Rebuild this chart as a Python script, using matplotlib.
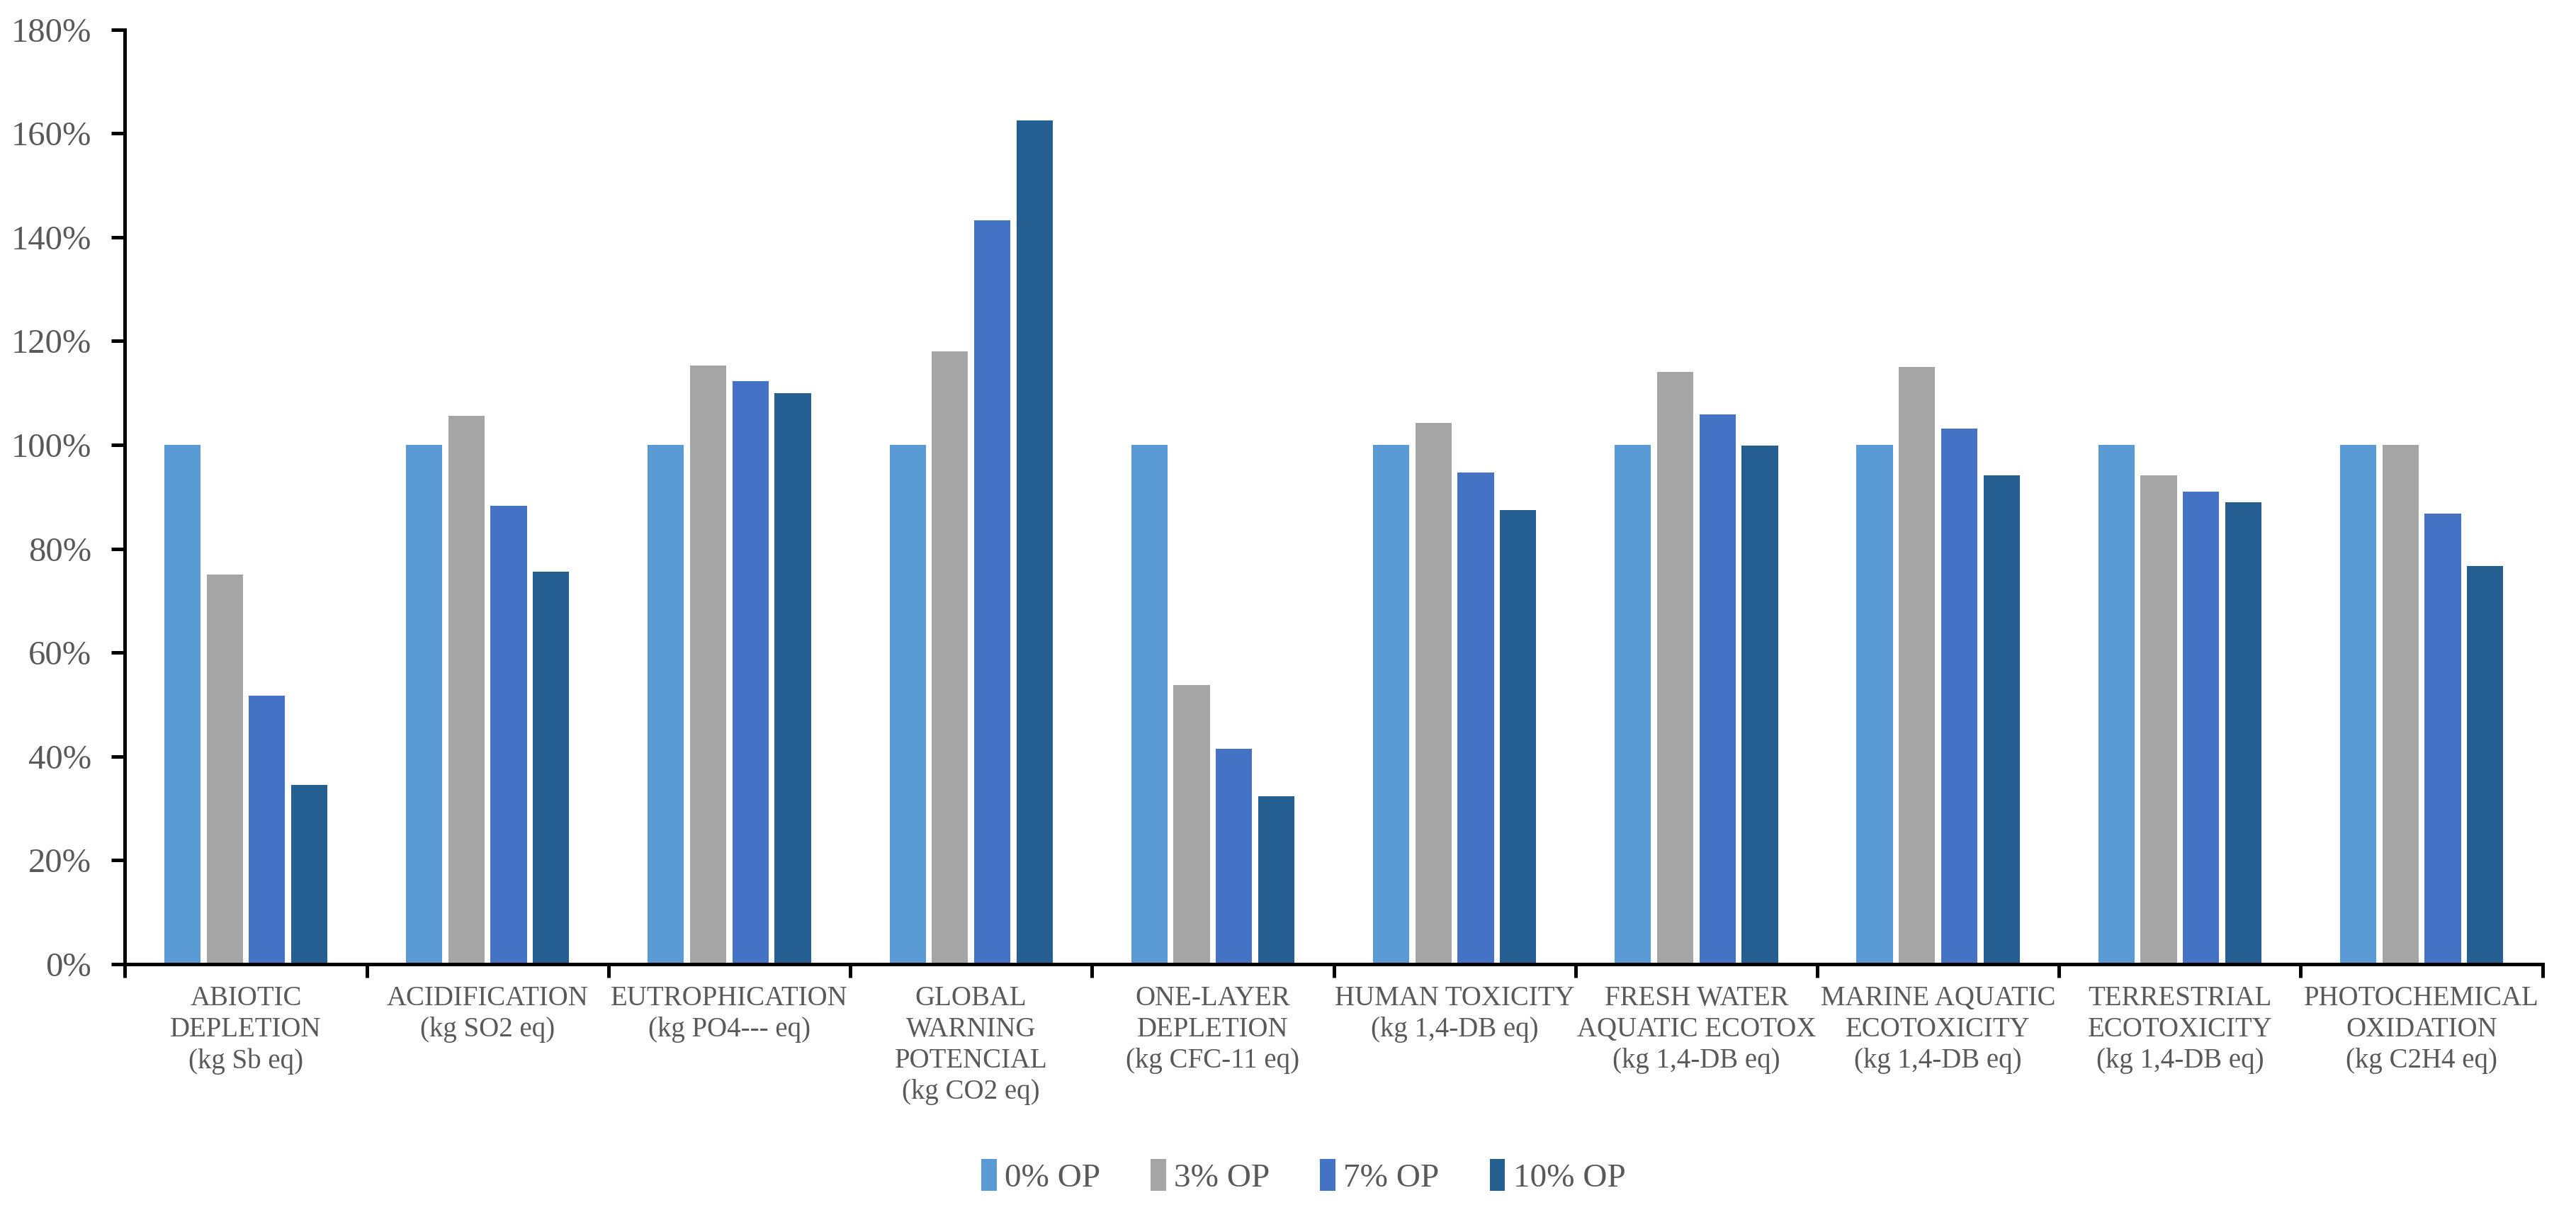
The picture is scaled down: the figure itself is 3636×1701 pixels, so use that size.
import numpy as np
import matplotlib.pyplot as plt
from matplotlib.ticker import FixedLocator

plt.rcParams['font.family'] = ['Liberation Serif', 'DejaVu Serif']

categories = [
    "ABIOTIC\nDEPLETION\n(kg Sb eq)",
    "ACIDIFICATION\n(kg SO2 eq)",
    "EUTROPHICATION\n(kg PO4--- eq)",
    "GLOBAL\nWARNING\nPOTENCIAL\n(kg CO2 eq)",
    "ONE-LAYER\nDEPLETION\n(kg CFC-11 eq)",
    "HUMAN TOXICITY\n(kg 1,4-DB eq)",
    "FRESH WATER\nAQUATIC ECOTOX\n(kg 1,4-DB eq)",
    "MARINE AQUATIC\nECOTOXICITY\n(kg 1,4-DB eq)",
    "TERRESTRIAL\nECOTOXICITY\n(kg 1,4-DB eq)",
    "PHOTOCHEMICAL\nOXIDATION\n(kg C2H4 eq)",
]

series_names = ["0% OP", "3% OP", "7% OP", "10% OP"]
op_0 = [100, 100, 100, 100, 100, 100, 100, 100, 100, 100]
op_3 = [75.0, 105.6, 115.3, 118.0, 53.8, 104.2, 114.0, 115.0, 94.1, 100.0]
op_7 = [51.7, 88.3, 112.3, 143.3, 41.4, 94.7, 105.9, 103.2, 91.0, 86.8]
op_10 = [34.5, 75.6, 110.0, 162.5, 32.3, 87.4, 99.8, 94.1, 89.0, 76.6]
series = [op_0, op_3, op_7, op_10]
colors = ["#5B9BD5", "#A5A5A5", "#4472C4", "#255E91"]

text_col = "#595959"

fig = plt.figure(figsize=(18.18, 8.505), dpi=200)
ax = fig.add_axes([0.0485, 0.20, 0.9385, 0.7755])

x = np.arange(len(categories))
width = 0.15
step = 0.175
for i, (vals, name, col) in enumerate(zip(series, series_names, colors)):
    ax.bar(x + (i - 1.5) * step, vals, width=width, color=col, label=name)

ax.set_xlim(-0.5, len(categories) - 0.5)
ax.set_ylim(0, 180)
ax.set_yticks(np.arange(0, 181, 20))
ax.set_yticklabels([f"{v}%" for v in range(0, 181, 20)])

# category boundaries get the tick marks, centres get the labels
ax.xaxis.set_major_locator(FixedLocator(np.arange(-0.5, len(categories), 1.0)))
ax.xaxis.set_minor_locator(FixedLocator(x))
ax.set_xticklabels([""] * (len(categories) + 1))
ax.set_xticklabels(categories, minor=True, linespacing=1.25)
ax.tick_params(axis='x', which='major', length=7, width=1.8, direction='out', color='black')
ax.tick_params(axis='x', which='minor', length=0, pad=11, labelsize=14, labelcolor=text_col)
ax.tick_params(axis='y', length=7, width=1.8, direction='out', labelsize=17.5, labelcolor=text_col, pad=10)

for side in ['top', 'right']:
    ax.spines[side].set_visible(False)
for side in ['left', 'bottom']:
    ax.spines[side].set_linewidth(1.8)
    ax.spines[side].set_color('black')

fig.legend(loc='center', bbox_to_anchor=(0.506, 0.024), ncol=4, frameon=False,
           fontsize=17, labelcolor=text_col, handlelength=0.45, handleheight=1.1,
           handletextpad=0.25, columnspacing=1.5)

fig.savefig("out.png", dpi=200)
